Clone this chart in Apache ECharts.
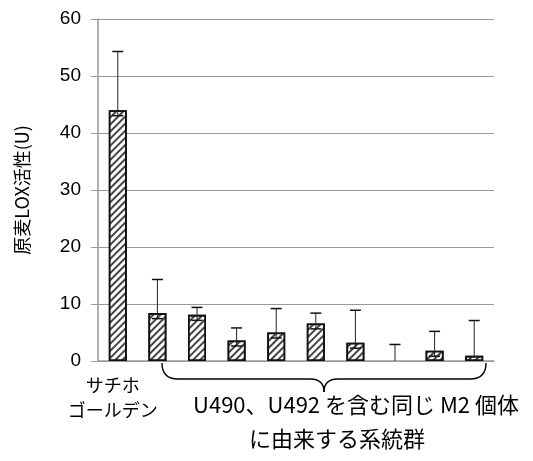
<!DOCTYPE html>
<html>
<head>
<meta charset="utf-8">
<script src="https://cdn.jsdelivr.net/npm/echarts@6/dist/echarts.min.js"></script>
<style>
html,body{margin:0;padding:0;background:#fff;}
#chart{width:533px;height:461px;}
</style>
</head>
<body>
<div id="chart"></div>
<script>
const categories = ['サチホゴールデン','系統1','系統2','系統3','系統4','系統5','系統6','系統7','系統8','系統9'];
const values = [44.0, 8.4, 8.1, 3.6, 5.0, 6.6, 3.2, 0, 1.8, 0.9];
const errors = [10.3, 5.9, 1.3, 2.2, 4.2, 1.8, 5.7, 2.9, 3.4, 6.2];
const yTicks = [0, 10, 20, 30, 40, 50, 60];
const yAxisTitle = '原麦LOX活性(U)';
const firstLabel = 'サチホ\nゴールデン';
const groupLine1 = 'U490、U492 を含む同じ M2 個体';
const groupLine2 = 'に由来する系統群';

const chart = echarts.init(document.getElementById('chart'));
const JP = '"Noto Sans CJK JP", sans-serif';

const braceStyle = {stroke: '#000', lineWidth: 1.4, fill: null};
function qc(x1, y1, cx, cy, x2, y2) {
  return {type: 'bezierCurve', shape: {x1: x1, y1: y1, cpx1: cx, cpy1: cy, x2: x2, y2: y2}, style: braceStyle};
}
function ln(x1, y1, x2, y2) {
  return {type: 'line', shape: {x1: x1, y1: y1, x2: x2, y2: y2}, style: braceStyle};
}

const option = {
  animation: false,
  backgroundColor: '#fff',
  grid: {left: 98, right: 39, top: 19, bottom: 100, containLabel: false},
  xAxis: {
    type: 'category',
    data: categories,
    axisLine: {show: true, lineStyle: {color: '#999', width: 1.5}},
    axisTick: {show: false},
    axisLabel: {
      interval: 0,
      margin: 12,
      formatter: (v, i) => i === 0 ? firstLabel : '',
      fontFamily: JP, fontSize: 18, lineHeight: 25, color: '#000',
      padding: [0, 10, 0, 0]
    }
  },
  yAxis: {
    type: 'value',
    min: yTicks[0], max: yTicks[yTicks.length - 1], interval: 10,
    name: yAxisTitle,
    nameLocation: 'middle',
    nameRotate: 90,
    nameGap: 67,
    nameTextStyle: {fontFamily: JP, fontSize: 18, color: '#000'},
    axisLine: {show: true, lineStyle: {color: '#999', width: 1.5}},
    axisTick: {show: true, length: 7, lineStyle: {color: '#999'}},
    axisLabel: {margin: 17, fontFamily: '"Liberation Sans", Arial, sans-serif', fontSize: 19, color: '#000'},
    splitLine: {show: true, lineStyle: {color: '#999', width: 1}}
  },
  series: [
    {
      type: 'bar',
      data: values.map(v => v === 0 ? {value: v, itemStyle: {borderWidth: 0, opacity: 0}} : v),
      barWidth: 18,
      itemStyle: {
        color: '#fff',
        borderColor: '#111',
        borderWidth: 1.8,
        decal: {
          symbol: 'rect',
          symbolSize: 1,
          dashArrayX: [1, 0],
          dashArrayY: [1.1, 2.6],
          rotation: -Math.PI / 4,
          color: '#444',
          backgroundColor: '#fff'
        }
      },
      z: 2
    },
    {
      type: 'custom',
      z: 3,
      data: values.map((v, i) => [i, v, errors[i]]),
      renderItem: function (params, api) {
        const x = api.value(0), v = api.value(1), e = api.value(2);
        const base = api.coord([x, v]);
        const top = api.coord([x, v + e]);
        const zero = api.coord([x, 0]);
        const cw = 5.5;
        const children = [
          {type: 'line', shape: {x1: base[0], y1: base[1], x2: top[0], y2: top[1]}, style: {stroke: '#222', lineWidth: 1}},
          {type: 'line', shape: {x1: top[0] - cw, y1: top[1], x2: top[0] + cw, y2: top[1]}, style: {stroke: '#111', lineWidth: 1.5}}
        ];
        if (zero[1] - base[1] > 7) {
          const ly = base[1] + 5.5;
          children.push({type: 'line', shape: {x1: base[0] - cw, y1: ly, x2: base[0] + cw, y2: ly}, style: {stroke: '#111', lineWidth: 1.5}});
          children.push({type: 'line', shape: {x1: base[0], y1: base[1], x2: base[0], y2: ly}, style: {stroke: '#222', lineWidth: 1}});
        }
        return {type: 'group', children: children};
      }
    }
  ],
  graphic: [
    qc(162, 363, 162, 379, 178, 379),
    ln(178, 379, 310, 379),
    qc(310, 379, 324, 379, 324, 392),
    qc(324, 392, 324, 379, 338, 379),
    ln(338, 379, 470, 379),
    qc(470, 379, 486, 379, 486, 363),
    {
      type: 'text',
      style: {text: groupLine1, font: '22px ' + JP, fill: '#000', textAlign: 'center', textVerticalAlign: 'middle', x: 356, y: 405}
    },
    {
      type: 'text',
      style: {text: groupLine2, font: '22px ' + JP, fill: '#000', textAlign: 'center', textVerticalAlign: 'middle', x: 337, y: 439}
    }
  ]
};
chart.setOption(option);
</script>
</body>
</html>
